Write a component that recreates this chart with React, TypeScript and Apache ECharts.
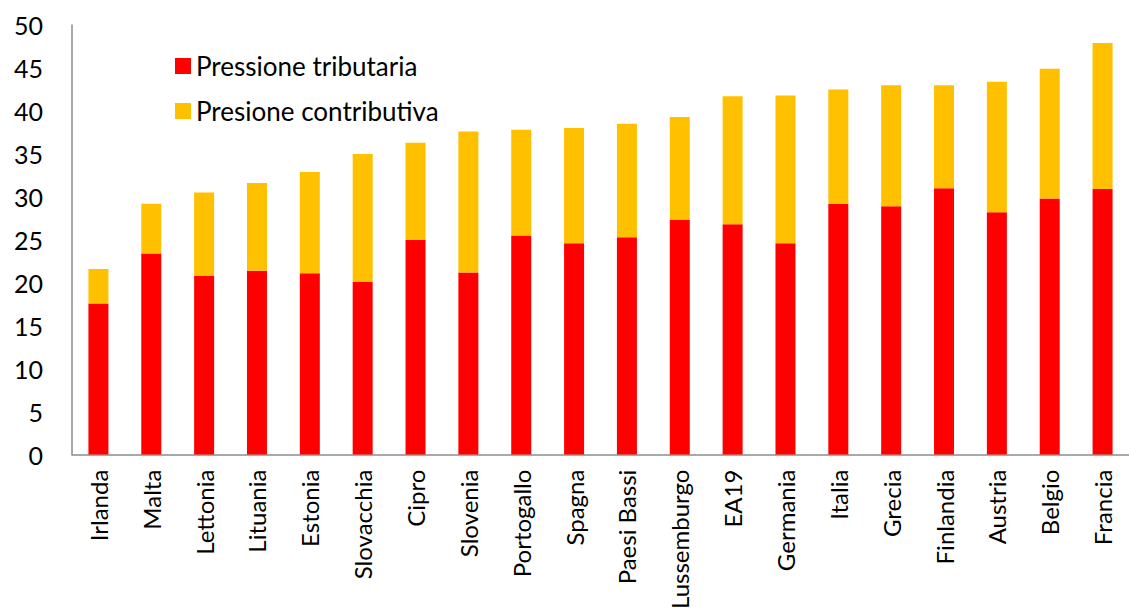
import React, { useEffect, useRef } from "react";
import * as echarts from "echarts";

const categories = [
  "Irlanda", "Malta", "Lettonia", "Lituania", "Estonia", "Slovacchia", "Cipro",
  "Slovenia", "Portogallo", "Spagna", "Paesi Bassi", "Lussemburgo", "EA19",
  "Germania", "Italia", "Grecia", "Finlandia", "Austria", "Belgio", "Francia",
];
const tributaria = [
  17.6, 23.4, 20.8, 21.4, 21.1, 20.1, 25.0, 21.2, 25.5, 24.6, 25.3, 27.3, 26.8,
  24.6, 29.2, 28.9, 31.0, 28.2, 29.8, 30.9,
];
const contributiva = [
  4.0, 5.8, 9.7, 10.2, 11.8, 14.9, 11.3, 16.4, 12.3, 13.4, 13.2, 12.0, 14.9,
  17.2, 13.3, 14.1, 12.0, 15.2, 15.1, 17.0,
];
const seriesNames = ["Pressione tributaria", "Presione contributiva"];
const yTicks = { min: 0, max: 50, interval: 5 };

export default function App() {
  const ref = useRef<HTMLDivElement>(null);
  useEffect(() => {
    if (!ref.current) return;
    const chart = echarts.init(ref.current, null, { renderer: "svg" });
    const font = "Lato, 'Open Sans', sans-serif";
    chart.setOption({
      animation: false,
      backgroundColor: "#ffffff",
      textStyle: { fontFamily: font },
      legend: {
        orient: "vertical",
        left: 170,
        top: 48,
        itemWidth: 16,
        itemHeight: 16,
        itemGap: 19,
        icon: "rect",
        textStyle: { fontSize: 26, color: "#000", fontFamily: font },
        data: seriesNames,
      },
      grid: { left: 72, right: -11, top: 25, bottom: 157, containLabel: false },
      xAxis: {
        type: "category",
        data: categories,
        axisLine: { show: true, lineStyle: { color: "#8c8c8c", width: 1.5 } },
        axisTick: { show: false },
        axisLabel: {
          rotate: 90,
          interval: 0,
          margin: 15,
          fontSize: 24,
          color: "#000",
          fontFamily: font,
        },
      },
      yAxis: {
        type: "value",
        min: yTicks.min,
        max: yTicks.max,
        interval: yTicks.interval,
        axisLine: { show: true, lineStyle: { color: "#8c8c8c", width: 1.5 } },
        axisTick: { show: false },
        splitLine: { show: false },
        axisLabel: { fontSize: 25, color: "#000", margin: 29, fontFamily: font },
      },
      series: [
        {
          name: seriesNames[0],
          type: "bar",
          stack: "tot",
          data: tributaria,
          barWidth: 20,
          itemStyle: { color: "#FF0000" },
        },
        {
          name: seriesNames[1],
          type: "bar",
          stack: "tot",
          data: contributiva,
          barWidth: 20,
          itemStyle: { color: "#FFC000" },
        },
      ],
    });
    return () => chart.dispose();
  }, []);
  return (
    <div
      ref={ref}
      style={{ position: "fixed", left: 0, top: 0, width: 1129, height: 612, background: "#fff" }}
    />
  );
}
